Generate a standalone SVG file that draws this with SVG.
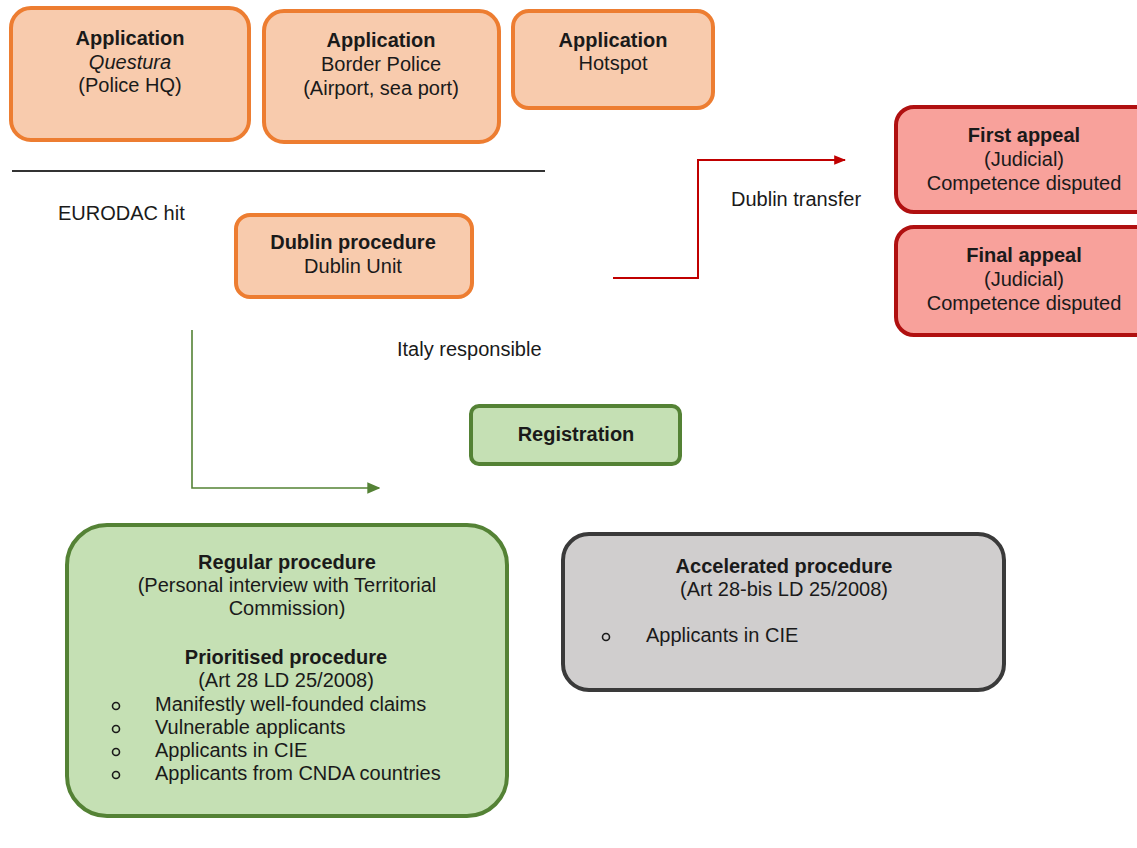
<svg xmlns="http://www.w3.org/2000/svg" width="1137" height="848" viewBox="0 0 1137 848">
<defs>
<style>
text{font-family:"Liberation Sans",Arial,sans-serif;font-size:20px;fill:#1a1a1a}
.c{text-anchor:middle}
.b{font-weight:bold}
.i{font-style:italic}
.or{fill:#F8CBAD;stroke:#ED7D31;stroke-width:4}
.rd{fill:#F8A19B;stroke:#B01010;stroke-width:4}
.gr{fill:#C5E0B4;stroke:#548235;stroke-width:4}
.gy{fill:#D0CECE;stroke:#3A3A3A;stroke-width:4}
.bul{fill:none;stroke:#1a1a1a;stroke-width:1.6}
</style>
<marker id="ar" viewBox="0 0 10 10" refX="9" refY="5" markerWidth="12" markerHeight="12" orient="auto" markerUnits="userSpaceOnUse"><path d="M0,1L10,5L0,9z" fill="#C00000"/></marker>
<marker id="ag" viewBox="0 0 10 10" refX="9" refY="5" markerWidth="13" markerHeight="13" orient="auto" markerUnits="userSpaceOnUse"><path d="M0,0.5L10,5L0,9.5z" fill="#548235"/></marker>
</defs>
<rect width="1137" height="848" fill="#fff"/>

<g id="n-questura">
<rect class="or" x="11" y="8" width="238" height="132" rx="20"/>
<text class="c b" x="130" y="45">Application</text>
<text class="c i" x="130" y="69">Questura</text>
<text class="c" x="130" y="92">(Police HQ)</text>
</g>
<g id="n-border">
<rect class="or" x="264" y="11" width="235" height="131" rx="20"/>
<text class="c b" x="381" y="47">Application</text>
<text class="c" x="381" y="71">Border Police</text>
<text class="c" x="381" y="95">(Airport, sea port)</text>
</g>
<g id="n-hotspot">
<rect class="or" x="513" y="11" width="200" height="97" rx="16"/>
<text class="c b" x="613" y="47">Application</text>
<text class="c" x="613" y="70">Hotspot</text>
</g>

<g id="separator">
<line x1="12" y1="171" x2="545" y2="171" stroke="#333" stroke-width="2"/>
</g>

<g id="n-dublin">
<rect class="or" x="236" y="215" width="236" height="82" rx="14"/>
<text class="c b" x="353" y="249">Dublin procedure</text>
<text class="c" x="353" y="273">Dublin Unit</text>
</g>

<g id="n-first-appeal">
<rect class="rd" x="896" y="107" width="260" height="105" rx="18"/>
<text class="c b" x="1024" y="142">First appeal</text>
<text class="c" x="1024" y="166">(Judicial)</text>
<text class="c" x="1024" y="190">Competence disputed</text>
</g>
<g id="n-final-appeal">
<rect class="rd" x="896" y="227" width="260" height="108" rx="18"/>
<text class="c b" x="1024" y="262">Final appeal</text>
<text class="c" x="1024" y="286">(Judicial)</text>
<text class="c" x="1024" y="310">Competence disputed</text>
</g>

<g id="n-registration">
<rect class="gr" x="471" y="406" width="209" height="58" rx="8"/>
<text class="c b" x="576" y="441">Registration</text>
</g>

<g id="n-regular">
<rect class="gr" x="67" y="525" width="440" height="291" rx="40"/>
<text class="c b" x="287" y="569">Regular procedure</text>
<text class="c" x="287" y="592">(Personal interview with Territorial</text>
<text class="c" x="287" y="615">Commission)</text>
<text class="c b" x="286" y="664">Prioritised procedure</text>
<text class="c" x="286" y="687">(Art 28 LD 25/2008)</text>
<circle class="bul" cx="116" cy="706" r="3.5"/>
<text x="155" y="711">Manifestly well-founded claims</text>
<circle class="bul" cx="116" cy="729" r="3.5"/>
<text x="155" y="734">Vulnerable applicants</text>
<circle class="bul" cx="116" cy="752" r="3.5"/>
<text x="155" y="757">Applicants in CIE</text>
<circle class="bul" cx="116" cy="775" r="3.5"/>
<text x="155" y="780">Applicants from CNDA countries</text>
</g>

<g id="n-accelerated">
<rect class="gy" x="563" y="534" width="441" height="156" rx="26"/>
<text class="c b" x="784" y="573">Accelerated procedure</text>
<text class="c" x="784" y="596">(Art 28-bis LD 25/2008)</text>
<circle class="bul" cx="606" cy="637" r="3.5"/>
<text x="646" y="642">Applicants in CIE</text>
</g>

<g id="labels">
<text x="58" y="220">EURODAC hit</text>
<text x="731" y="206">Dublin transfer</text>
<text x="397" y="356">Italy responsible</text>
</g>

<g id="connectors" fill="none">
<path d="M613,278H698V160H845" stroke="#C00000" stroke-width="2" marker-end="url(#ar)"/>
<path d="M192,330V488H379" stroke="#548235" stroke-width="1.6" marker-end="url(#ag)"/>
</g>
</svg>
